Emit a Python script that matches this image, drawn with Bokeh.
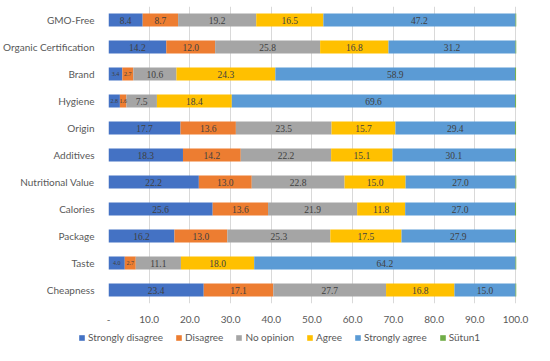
from bokeh.plotting import figure
from bokeh.layouts import column
from bokeh.models import ColumnDataSource, FactorRange, FixedTicker, Legend, LegendItem, LabelSet
from bokeh.embed import file_html
from bokeh.resources import INLINE

categories = ["GMO-Free", "Organic Certification", "Brand", "Hygiene", "Origin", "Additives",
              "Nutritional Value", "Calories", "Package", "Taste", "Cheapness"]
strongly_disagree = [8.4, 14.2, 3.4, 2.8, 17.7, 18.3, 22.2, 25.6, 16.2, 4.0, 23.4]
disagree = [8.7, 12.0, 2.7, 1.6, 13.6, 14.2, 13.0, 13.6, 13.0, 2.7, 17.1]
no_opinion = [19.2, 25.8, 10.6, 7.5, 23.5, 22.2, 22.8, 21.9, 25.3, 11.1, 27.7]
agree = [16.5, 16.8, 24.3, 18.4, 15.7, 15.1, 15.0, 11.8, 17.5, 18.0, 16.8]
strongly_agree = [47.2, 31.2, 58.9, 69.6, 29.4, 30.1, 27.0, 27.0, 27.9, 64.2, 15.0]
sutun1 = [0.25] * 11

series_names = ["Strongly disagree", "Disagree", "No opinion", "Agree", "Strongly agree", "Sütun1"]
series_vals = [strongly_disagree, disagree, no_opinion, agree, strongly_agree, sutun1]
colors = ["#4472C4", "#ED7D31", "#A5A5A5", "#FFC000", "#5B9BD5", "#70AD47"]
keys = ["s0", "s1", "s2", "s3", "s4", "s5"]

tick_values = [0, 10, 20, 30, 40, 50, 60, 70, 80, 90, 100]
tick_labels = ["-", "10.0", "20.0", "30.0", "40.0", "50.0", "60.0", "70.0", "80.0", "90.0", "100.0"]

FONT = "Lato"

data = {"cat": categories}
for k, v in zip(keys, series_vals):
    data[k] = v
source = ColumnDataSource(data)

p = figure(width=534, height=327, output_backend="svg", toolbar_location=None,
           y_range=FactorRange(factors=list(reversed(categories))),
           x_range=(0, 100.25))
p.min_border_left = 105
p.min_border_right = 18
p.min_border_top = 6
p.min_border_bottom = 24
p.outline_line_color = None
p.background_fill_color = "white"
p.border_fill_color = "white"

renderers = p.hbar_stack(keys, y="cat", height=0.48, color=colors, source=source, line_color=None)

# labels
big = dict(x=[], y=[], t=[])
small = dict(x=[], y=[], t=[])
for i in range(5):
    for r in range(len(categories)):
        start = sum(series_vals[j][r] for j in range(i))
        v = series_vals[i][r]
        d = small if v < 5 else big
        d["x"].append(start + v / 2)
        d["y"].append(categories[r])
        d["t"].append("%.1f" % v)

for d, fs in ((big, "9.5px"), (small, "6px")):
    lab = LabelSet(x="x", y="y", text="t", source=ColumnDataSource(d), text_align="center",
                   text_baseline="middle", text_color="#404040", text_font=FONT, text_font_size=fs)
    p.add_layout(lab)

p.xaxis.ticker = FixedTicker(ticks=tick_values)
p.xaxis.major_label_overrides = {t: l for t, l in zip(tick_values, tick_labels)}
p.xaxis.axis_line_color = None
p.xaxis.major_tick_line_color = None
p.xaxis.minor_tick_line_color = None
p.xaxis.major_label_text_color = "#595959"
p.xaxis.major_label_text_font = FONT
p.xaxis.major_label_text_font_size = "10px"
p.xaxis.major_label_standoff = 6

p.yaxis.axis_line_color = None
p.yaxis.major_tick_line_color = None
p.yaxis.minor_tick_line_color = None
p.yaxis.major_label_text_color = "#595959"
p.yaxis.major_label_text_font = FONT
p.yaxis.major_label_text_font_size = "10px"
p.yaxis.major_label_standoff = 8

p.xgrid.grid_line_color = "#d9d9d9"
p.ygrid.grid_line_color = None

# legend in its own small strip
lf = figure(width=534, height=18, output_backend="svg", toolbar_location=None,
            x_range=(0, 1), y_range=(0, 1))
lf.min_border_left = 0
lf.min_border_right = 0
lf.min_border_top = 0
lf.min_border_bottom = 0
lf.axis.visible = False
lf.grid.visible = False
lf.outline_line_color = None
lf.border_fill_color = "white"

legend_x = 78
try:
    p.frame_align = False
    lf.frame_align = False
except Exception:
    legend_x = 78 - 105

items = []
for n, c in zip(series_names, colors):
    # zero-size swatch carrier (draws nothing in the strip, only feeds the legend)
    r = lf.hbar(y=[0.5], left=[0], right=[0], height=0, color=c, line_color=None)
    items.append(LegendItem(label=n, renderers=[r]))
legend = Legend(items=items, orientation="horizontal", location=(legend_x, 2),
                label_text_font=FONT, label_text_font_size="10px", label_text_color="#595959",
                glyph_width=7, glyph_height=7, spacing=12, label_standoff=3,
                border_line_color=None, background_fill_alpha=0, margin=0, padding=2,
                label_height=10)
lf.add_layout(legend)

layout = column(p, lf, spacing=0)
open("out.html", "w").write(file_html(layout, INLINE))
